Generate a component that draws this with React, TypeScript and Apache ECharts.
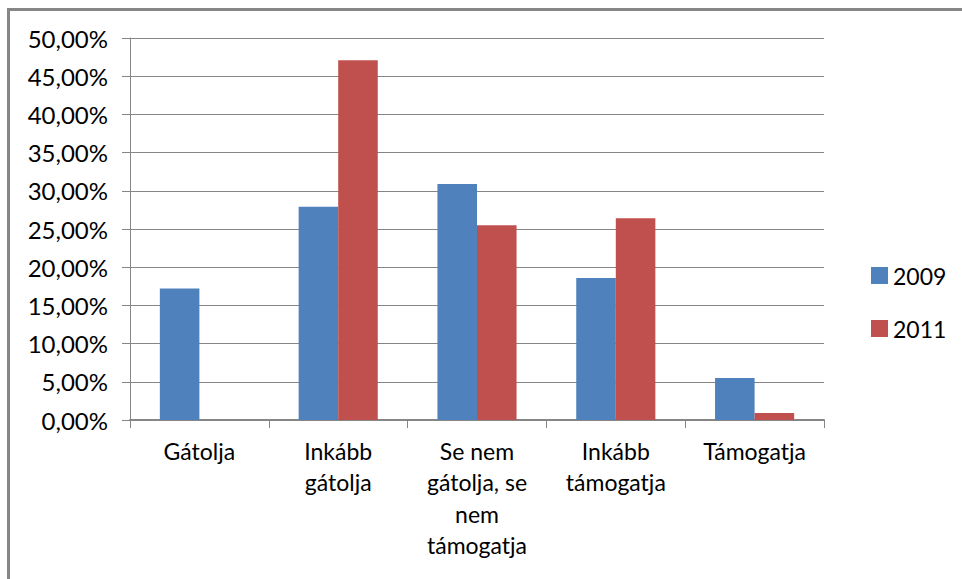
import React, { useEffect, useRef } from "react";
import * as echarts from "echarts";

const categories = [
  "Gátolja",
  "Inkább\ngátolja",
  "Se nem\ngátolja, se\nnem\ntámogatja",
  "Inkább\ntámogatja",
  "Támogatja",
];
const series2009 = [0.172, 0.279, 0.309, 0.186, 0.055];
const series2011 = [0, 0.471, 0.255, 0.264, 0.009];
const seriesNames = ["2009", "2011"];

const FONT = "Lato";
const GRAY = "#868686";

export default function App() {
  const ref = useRef<HTMLDivElement>(null);
  useEffect(() => {
    if (!ref.current) return;
    const chart = echarts.init(ref.current, undefined, { renderer: "svg" });
    chart.setOption({
      animation: false,
      backgroundColor: "#ffffff",
      textStyle: { fontFamily: FONT },
      grid: { left: 130, right: 138, top: 38, bottom: 159 },
      legend: {
        orient: "vertical",
        left: 866,
        top: 259,
        itemWidth: 17,
        itemHeight: 17,
        itemGap: 30,
        icon: "rect",
        textStyle: { fontFamily: FONT, fontSize: 23, color: "#000" },
        data: seriesNames,
      },
      xAxis: {
        type: "category",
        data: categories,
        axisLine: { lineStyle: { color: GRAY, width: 2 } },
        axisTick: { show: true, length: 8, alignWithLabel: false, lineStyle: { color: GRAY } },
        axisLabel: {
          interval: 0,
          margin: 15,
          fontFamily: FONT,
          fontSize: 23,
          lineHeight: 31.5,
          color: "#000",
          align: "center",
        },
      },
      yAxis: {
        type: "value",
        min: 0,
        max: 0.5,
        interval: 0.05,
        axisLine: { show: true, lineStyle: { color: GRAY, width: 1 } },
        axisTick: { show: true, length: 8, lineStyle: { color: GRAY } },
        splitLine: { show: true, lineStyle: { color: GRAY, width: 1 } },
        axisLabel: {
          margin: 22,
          fontFamily: FONT,
          fontSize: 24,
          color: "#000",
          formatter: (v: number) => (v * 100).toFixed(2).replace(".", ",") + "%",
        },
      },
      series: [
        {
          name: seriesNames[0],
          type: "bar",
          data: series2009,
          itemStyle: { color: "#4F81BD" },
          barGap: "0%",
          barCategoryGap: "43%",
        },
        {
          name: seriesNames[1],
          type: "bar",
          data: series2011,
          itemStyle: { color: "#C0504D" },
          barGap: "0%",
          barCategoryGap: "43%",
        },
      ],
      graphic: [
        {
          type: "rect",
          shape: { x: 8.5, y: 9.5, width: 1000, height: 1000 },
          style: { fill: "none", stroke: GRAY, lineWidth: 3 },
          silent: true,
        },
      ],
    });
    return () => chart.dispose();
  }, []);
  return (
    <div
      ref={ref}
      style={{ position: "fixed", left: 0, top: 0, width: 962, height: 579 }}
    />
  );
}
